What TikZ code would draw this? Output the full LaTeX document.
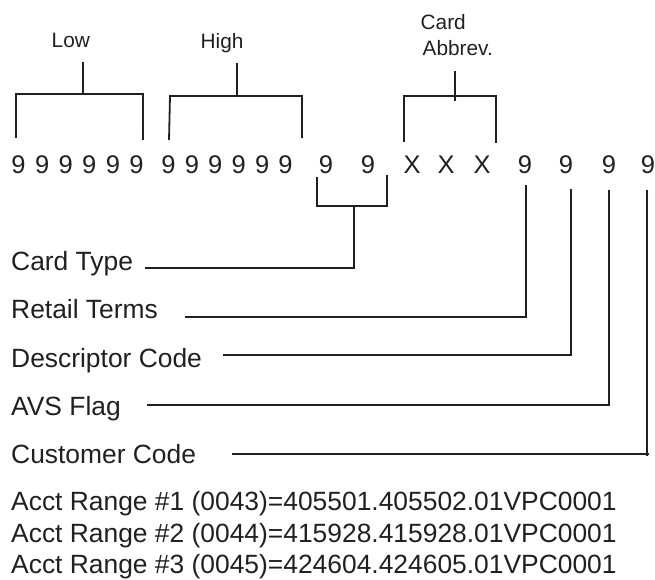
\documentclass[tikz,border=0pt]{standalone}
\usepackage{fontspec}
\setmainfont{Liberation Sans}
\definecolor{ink}{RGB}{35,31,32}
\newcommand{\lblfont}{\fontsize{26.4}{31.7}\selectfont}
\newcommand{\topfont}{\fontsize{20.8}{26}\selectfont}
\newcommand{\digfont}{\fontsize{25.5}{30}\selectfont}
\tikzset{
  lbl/.style={font=\lblfont, text=ink, inner sep=0pt, anchor=base west},
  toplbl/.style={font=\topfont, text=ink, inner sep=0pt, anchor=base west},
  digit/.style={font=\digfont, text=ink, inner sep=0pt, anchor=base},
  ln/.style={draw=ink, line width=1.8pt, line cap=butt, line join=miter}
}
\begin{document}
\begin{tikzpicture}[x=1pt,y=-1pt]
\useasboundingbox (0,0) rectangle (655,579);

% digit row
\foreach \x/\c/\n in {18.5/9/d1,42.1/9/d2,65.7/9/d3,89.3/9/d4,112.9/9/d5,136.5/9/d6,
  168.5/9/d7,191.9/9/d8,215.3/9/d9,238.7/9/d10,262.1/9/d11,285.5/9/d12,
  326/9/d13,368/9/d14,412/X/d15,446/X/d16,482/X/d17,525/9/d18,566/9/d19,609/9/d20,648/9/d21}
  \node[digit] (\n) at (\x,173) {\c};

% top labels
\node[toplbl] (low) at (51.5,47) {Low};
\node[toplbl] (high) at (200.5,48) {High};
\node[toplbl] (card1) at (420.5,29) {Card};
\node[toplbl] (card2) at (422.5,55) {Abbrev.};

% left labels
\node[lbl] (ct) at (11,270) {Card Type};
\node[lbl] (rt) at (11,318) {Retail Terms};
\node[lbl] (dc) at (11,367) {Descriptor Code};
\node[lbl] (avs) at (11,415) {AVS Flag};
\node[lbl] (cc) at (11,463) {Customer Code};

% account ranges
\node[lbl] (a1) at (11,510) {Acct Range \#1 (0043)=405501.405502.01VPC0001};
\node[lbl] (a2) at (11,542) {Acct Range \#2 (0044)=415928.415928.01VPC0001};
\node[lbl] (a3) at (11,573) {Acct Range \#3 (0045)=424604.424605.01VPC0001};

% named points
\coordinate (lowS) at (83,62);   \coordinate (lowM) at (83,94);
\coordinate (highS) at (237,63); \coordinate (highM) at (237,96);
\coordinate (cardS) at (455,71); \coordinate (cardM) at (455,101);
\coordinate (ctM) at (354,206);  \coordinate (ctE) at (145,268);
\coordinate (rtT) at (526,185);  \coordinate (rtE) at (185,317);
\coordinate (dcT) at (571,189);  \coordinate (dcE) at (223,355);
\coordinate (avT) at (609,190);  \coordinate (avE) at (147,405);
\coordinate (ccT) at (647,190);  \coordinate (ccE) at (232,454);

% top brackets
\draw[ln] (16,138) -- (16,94) -- (143,94) -- (143,140);
\draw[ln] (lowM) -- (lowS);
\draw[ln] (169,140) -- (170,96) -- (302,96) -- (302,138);
\draw[ln] (highM) -- (highS);
\draw[ln] (404,142) -- (404,96) -- (496,96) -- (496,143);
\draw[ln] (cardM) -- (cardS);

% card type bracket
\draw[ln] (317,177) -- (317,206) -- (387,206) -- (387,175);
\draw[ln] (ctM) |- (ctE);

% single-digit connectors
\draw[ln] (rtT) |- (rtE);
\draw[ln] (dcT) |- (dcE);
\draw[ln] (avT) |- (avE);
\draw[ln] (ccT) -- (647,456);
\draw[ln] (649,454) -- (ccE);
\end{tikzpicture}
\end{document}
